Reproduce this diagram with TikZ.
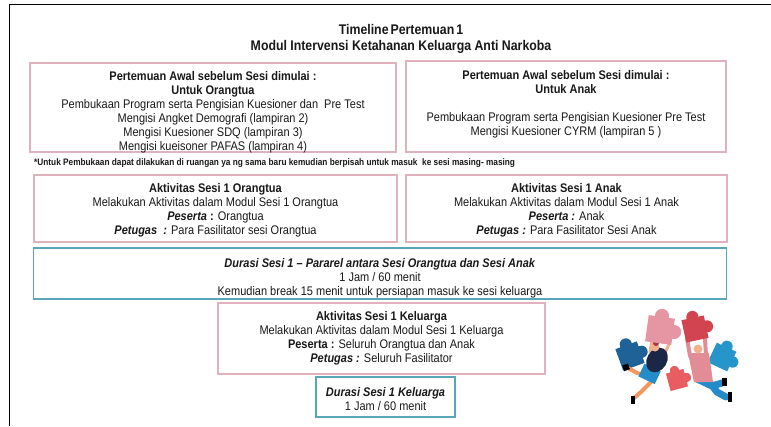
\documentclass[tikz,border=0pt]{standalone}
\usepackage{fontspec}
\setmainfont{Liberation Sans}[FakeStretch=0.88]
\usetikzlibrary{calc}
\definecolor{roseline}{RGB}{224,178,190}
\definecolor{tealline}{RGB}{88,166,184}
\definecolor{ink}{RGB}{25,25,25}
\definecolor{pzblue}{RGB}{30,98,152}
\definecolor{pzpink}{RGB}{230,150,162}
\definecolor{pzred}{RGB}{210,68,80}
\definecolor{pzcyan}{RGB}{38,150,202}
\definecolor{pzcoral}{RGB}{232,92,98}
\definecolor{navy}{RGB}{28,38,70}
\definecolor{jeans}{RGB}{36,140,200}
\definecolor{skin}{RGB}{240,178,142}
\definecolor{legorange}{RGB}{242,152,92}
\definecolor{shirtpink}{RGB}{226,140,150}
\tikzset{
  rosebox/.style={draw=roseline, line width=1.2pt, inner sep=0pt},
  tealbox/.style={draw=tealline, line width=1.8pt, inner sep=0pt},
  body/.style={text=ink, align=center, inner sep=0pt, font=\fontsize{12.5}{14}\selectfont},
  heading/.style={text=ink, align=center, inner sep=0pt, font=\fontsize{14}{16.5}\selectfont\bfseries},
  note/.style={text=ink, anchor=west, inner sep=0pt, font=\fontsize{9.4}{10}\selectfont\bfseries},
  pics/puzzle/.style={code={
    \fill (-6,-6) rectangle (6,6);
    \fill (0,-6.5) circle (3.2);
    \fill (6.5,0) circle (3.2);
  }},
}
\newcommand{\lbl}[1]{\textbf{\textit{#1}}}
\begin{document}
\begin{tikzpicture}[x=1pt,y=-1pt]
\useasboundingbox (0,0) rectangle (771,426);
\fill[white] (0,0) rectangle (771,426);
% page frame
\draw[black, line width=1.6pt] (9.5,426) -- (9.5,4.5) -- (771,4.5);

% titles
\node[heading] (title) at (401,39) {Timeline\hspace{2pt}Pertemuan\hspace{2pt}1\\Modul Intervensi Ketahanan Keluarga Anti Narkoba};

% opening meeting boxes
\node[rosebox, minimum width=366pt, minimum height=89pt] (awalot) at (213,107.5) {};
\node[rosebox, minimum width=320pt, minimum height=91pt] (awalanak) at (566,106.5) {};
\node[body] (awalottxt) at (213,112.5) {\textbf{Pertemuan Awal sebelum Sesi dimulai :}\\\textbf{Untuk Orangtua}\\Pembukaan Program serta Pengisian Kuesioner dan \ Pre Test\\Mengisi Angket Demografi (lampiran 2)\\Mengisi Kuesioner SDQ (lampiran 3)\\Mengisi kueisoner PAFAS (lampiran 4)};
\node[body] (awalanaktxt) at (566,104) {\textbf{Pertemuan Awal sebelum Sesi dimulai :}\\\textbf{Untuk Anak}\\[14pt]Pembukaan Program serta Pengisian Kuesioner Pre Test\\Mengisi Kuesioner CYRM (lampiran 5 )};

\node[note] (catatan) at (34,163) {*Untuk Pembukaan dapat dilakukan di ruangan ya ng sama baru kemudian berpisah untuk masuk \ ke sesi masing- masing};

% session 1 activity boxes
\node[rosebox, minimum width=363pt, minimum height=67pt] (aktot) at (215.5,208.5) {};
\node[rosebox, minimum width=321pt, minimum height=67pt] (aktanak) at (566.5,208.5) {};
\node[body] (aktottxt) at (215.5,210.5) {\textbf{Aktivitas Sesi 1 Orangtua}\\Melakukan Aktivitas dalam Modul Sesi 1 Orangtua\\\lbl{Peserta} \textbf{:} Orangtua\\\lbl{Petugas \ :} Para Fasilitator sesi Orangtua};
\node[body] (aktanaktxt) at (566.5,210.5) {\textbf{Aktivitas Sesi 1 Anak}\\Melakukan Aktivitas dalam Modul Sesi 1 Anak\\\lbl{Peserta :} Anak\\\lbl{Petugas :} Para Fasilitator Sesi Anak};

% parallel duration box
\node[tealbox, minimum width=693pt, minimum height=51pt] (durasi) at (380,273.5) {};
\node[body] (durasitxt) at (380,278.5) {\lbl{Durasi Sesi 1 -- Pararel antara Sesi Orangtua dan Sesi Anak}\\1 Jam / 60 menit\\Kemudian break 15 menit untuk persiapan masuk ke sesi keluarga};

% family session
\node[rosebox, minimum width=327pt, minimum height=71pt] (aktkel) at (381.5,338.5) {};
\node[body] (aktkeltxt) at (381.5,338.5) {\textbf{Aktivitas Sesi 1 Keluarga}\\Melakukan Aktivitas dalam Modul Sesi 1 Keluarga\\\textbf{Peserta :} Seluruh Orangtua dan Anak\\\lbl{Petugas :} Seluruh Fasilitator};
\node[tealbox, minimum width=139pt, minimum height=40pt] (durkel) at (385.5,397) {};
\node[body] (durkeltxt) at (385.5,399) {\lbl{Durasi Sesi 1 Keluarga}\\1 Jam / 60 menit};

% puzzle illustration: loose pieces
\pic[fill=pzblue, rotate=20, scale=1.9] at (630,356) {puzzle};
\pic[fill=pzcyan, rotate=-25, scale=1.8] at (722,357) {puzzle};
\pic[fill=pzcoral, rotate=15, scale=1.5] at (677,380) {puzzle};
% jumping woman holding the pink piece
\draw[legorange, line width=4pt, line cap=round] (648,376) -- (637,373) -- (628,368);
\draw[legorange, line width=4pt, line cap=round] (652,381) -- (641,392) -- (634,398);
\fill[black, rotate around={20:(627,367)}] (623,364) rectangle (629,370);
\fill[black] (631,396) rectangle (635,404);
\fill[jeans, rotate around={-25:(650,373)}] (641,367) rectangle (659,381);
\draw[skin, line width=3pt, line cap=round] (650,352) -- (652,340);
\draw[skin, line width=3pt, line cap=round] (664,355) -- (670,342);
\fill[navy, rotate around={-30:(657,360)}] (657,360) ellipse (10 and 13);
\fill[skin] (655,347) circle (4.5);
\fill[pzred!80!black] (656,343) circle (3);
\pic[fill=pzpink, rotate=-8, scale=2.2] at (660,330) {puzzle};
% jumping man holding the red piece
\draw[jeans, line width=7pt, line cap=round] (697,379) -- (712,386) -- (722,383);
\draw[jeans, line width=7pt, line cap=round] (707,379) -- (717,392) -- (726,397);
\fill[black] (722,378) rectangle (727,386);
\fill[black] (728,392) rectangle (732,402);
\draw[shirtpink, line width=4pt, line cap=round] (690,356) -- (687,338);
\draw[shirtpink, line width=4pt, line cap=round] (706,356) -- (705,338);
\fill[shirtpink] (688,353) -- (709,353) -- (713,382) -- (694,382) -- cycle;
\fill[skin] (698,349) circle (4.5);
\pic[fill=pzred, rotate=12, scale=1.9] at (695,329) {puzzle};
\end{tikzpicture}
\end{document}
